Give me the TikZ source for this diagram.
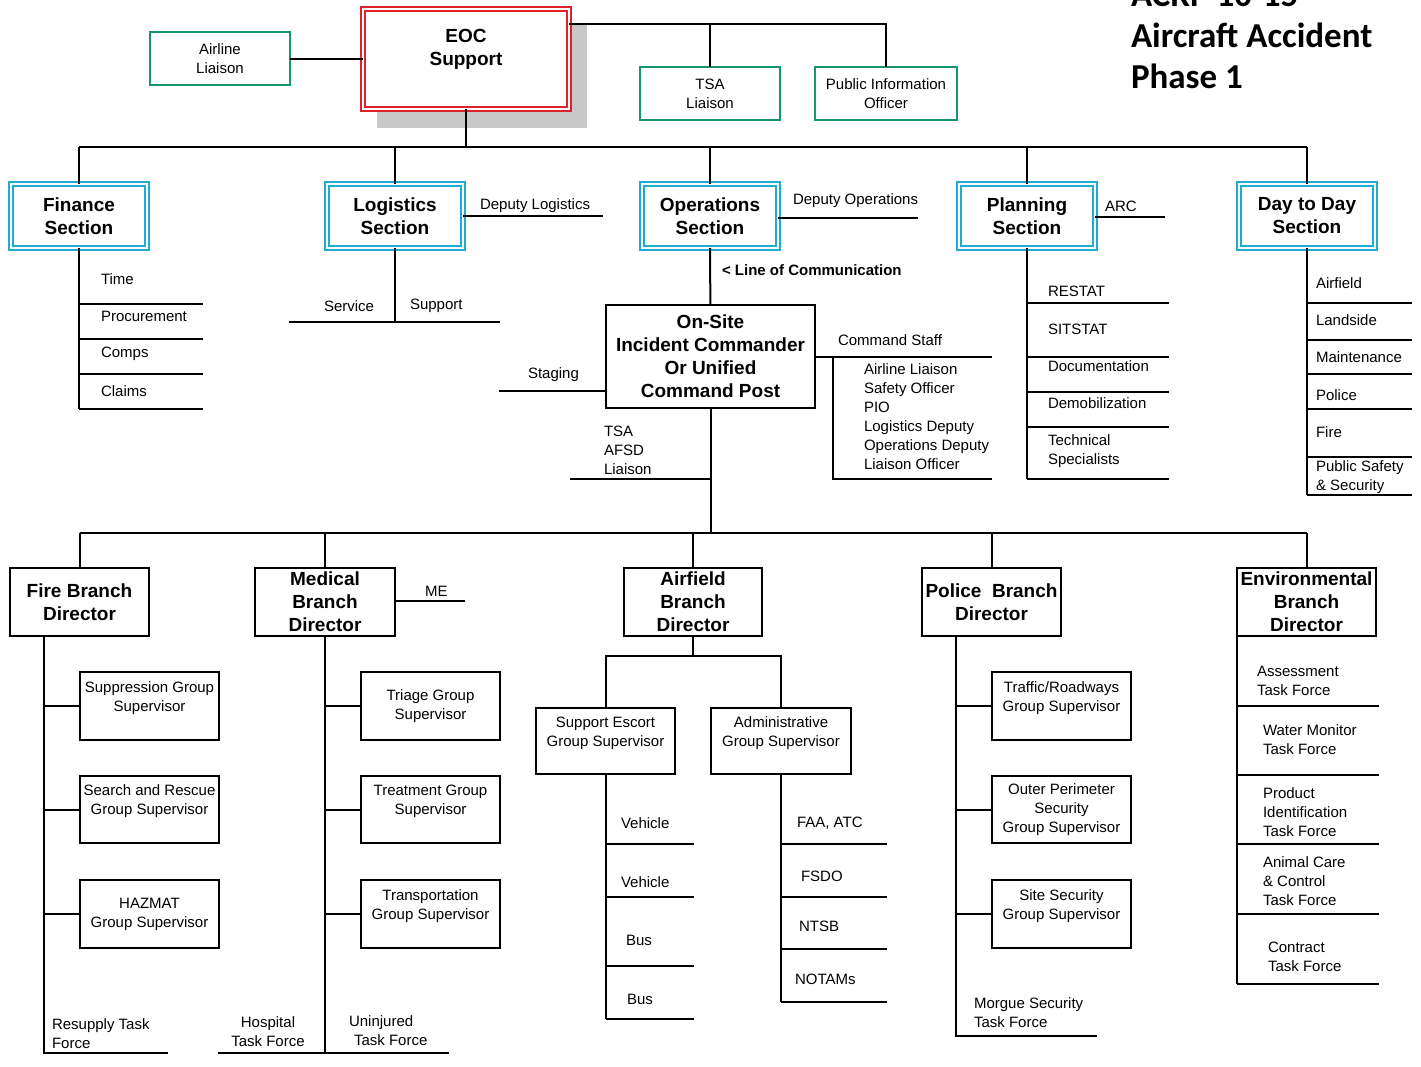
\documentclass[tikz,border=0pt]{standalone}
\usepackage{fontspec}
\setmainfont{Liberation Sans}
\newfontfamily\titlefont{Carlito}
\definecolor{eocred}{RGB}{222,34,44}
\definecolor{secblue}{RGB}{32,172,208}
\definecolor{liaigreen}{RGB}{22,150,112}
\definecolor{shadowgray}{RGB}{200,200,200}
\begin{document}
\begin{tikzpicture}[x=1pt,y=-1pt,
  every node/.style={inner sep=0pt, outer sep=0pt},
  ln/.style={line width=2pt, black},
  reg/.style={font=\fontsize{15}{19}\selectfont},
  bld/.style={font=\bfseries\fontsize{19}{23}\selectfont},
  box/.style={draw=black, line width=2pt, fill=white, align=center, reg},
  bbox/.style={box, bld},
  gbox/.style={draw=liaigreen, line width=2pt, fill=white, align=center, reg,
    minimum width=140pt, minimum height=53pt},
  sbox/.style={draw=secblue, double=white, line width=1.8pt, double distance=1.6pt,
    fill=white, align=center, bld, minimum width=136pt, minimum height=64pt},
  lbl/.style={anchor=west, align=left, reg},
]
\useasboundingbox (0,0) rectangle (1421,1067);
\begin{scope}
\clip (0,0) rectangle (1421,1067);

% title
\node[anchor=west, align=left, font=\titlefont\bfseries\fontsize{35}{41}\selectfont]
  (title) at (1131,36) {ACRP 10-15\\Aircraft Accident\\Phase 1};

% ---------- EOC level ----------
\fill[shadowgray] (377,25) rectangle (587,128);
\node[draw=eocred, double=white, line width=2pt, double distance=2pt, fill=white,
  minimum width=206pt, minimum height=100pt, align=center, bld]
  (eoc) at (466,59) {EOC\\Support\\~};
\node[gbox] (airline) at (220,59) {Airline\\Liaison};
\node[gbox] (tsa) at (710,93.5) {TSA\\Liaison};
\node[gbox, minimum width=142pt] (pio) at (886,93.5) {Public Information\\Officer};

\draw[ln] (airline) -- (eoc);
\draw[ln] (eoc.east |- 0,24) -| (pio.north);
\draw[ln] (tsa.north) -- (tsa.north |- 0,24);

% ---------- sections ----------
\node[sbox] (finance) at (79,216) {Finance\\Section};
\node[sbox] (logistics) at (395,216) {Logistics\\Section};
\node[sbox] (operations) at (710,216) {Operations\\Section};
\node[sbox] (planning) at (1027,216) {Planning\\Section};
\node[sbox] (daytoday) at (1307,216) {Day to Day\\Section};

\coordinate (topbus) at (0,147);
\draw[ln] (eoc.south) -- (eoc.south |- topbus);
\draw[ln] (finance.north |- topbus) -- (daytoday.north |- topbus);
\foreach \s in {finance,logistics,operations,planning,daytoday}
  \draw[ln] (\s.north) -- (\s.north |- topbus);

% finance units
\draw[ln] (finance.south) -- (finance.south |- 0,409);
\foreach \y in {304,339,374,409} \draw[ln] (finance.south |- 0,\y) -- ++(124,0);
\node[lbl] (time) at (101,279) {Time};
\node[lbl] (procure) at (101,316) {Procurement};
\node[lbl] (comps) at (101,354) {Comps};
\node[lbl] (claims) at (101,391) {Claims};

% logistics units
\draw[ln] (logistics.east) -- ++(140,0);
\node[lbl] (deplog) at (480,206) {Deputy Logistics};
\draw[ln] (logistics.south) -- (logistics.south |- 0,322);
\draw[ln] (289,322) coordinate (svcL) -- (500,322) coordinate (supR);
\node[lbl] (service) at (324,306) {Service};
\node[lbl] (support) at (410,306) {Support};

% operations
\draw[ln] (operations.east |- 0,218) -- ++(140,0);
\node[lbl] (depops) at (793,201) {Deputy Operations};
\node[lbl, font=\bfseries\fontsize{15}{19}\selectfont] (loc) at (722,270) {< Line of Communication};

\node[bbox, minimum width=209pt, minimum height=103pt] (onsite) at (710.5,356.5)
  {On-Site\\Incident Commander\\Or Unified\\Command Post};
\draw[ln] (operations) -- (onsite);

\draw[ln] (onsite.west |- 0,391) -- ++(-107,0);
\node[lbl] (staging) at (528,375) {Staging};

\draw[ln] (onsite.east |- 0,357) -- (992,357);
\coordinate (cstrunk) at (833,357);
\draw[ln] (cstrunk) -- (cstrunk |- 0,479) -- (992,479);
\node[lbl] (cmdstaff) at (838,340) {Command Staff};
\node[lbl] (cslist) at (864,417) {Airline Liaison\\Safety Officer\\PIO\\Logistics Deputy\\Operations Deputy\\Liaison Officer};

\node[lbl] (afsd) at (604,450) {TSA\\AFSD\\Liaison};
\draw[ln] (570,479) -- (onsite.south |- 0,479);

% planning units
\draw[ln] (planning.east |- 0,217) -- ++(70,0);
\node[lbl] (arc) at (1105,206) {ARC};
\draw[ln] (planning.south) -- (planning.south |- 0,479);
\foreach \y in {303,357,392,427,479} \draw[ln] (planning.south |- 0,\y) -- ++(142,0);
\node[lbl] (restat) at (1048,291) {RESTAT};
\node[lbl] (sitstat) at (1048,329) {SITSTAT};
\node[lbl] (docu) at (1048,366) {Documentation};
\node[lbl] (demob) at (1048,403) {Demobilization};
\node[lbl] (techspec) at (1048,451) {Technical\\Specialists};

% day to day units
\draw[ln] (daytoday.south) -- (daytoday.south |- 0,495);
\foreach \y in {303,340,374,409,457,495} \draw[ln] (daytoday.south |- 0,\y) -- ++(105,0);
\node[lbl] (dairfield) at (1316,283) {Airfield};
\node[lbl] (landside) at (1316,320) {Landside};
\node[lbl] (maint) at (1316,357) {Maintenance};
\node[lbl] (dpolice) at (1316,395) {Police};
\node[lbl] (dfire) at (1316,432) {Fire};
\node[lbl] (pubsafe) at (1316,477.5) {Public Safety\\\& Security};

% ---------- branches ----------
\node[bbox, minimum width=139pt, minimum height=68pt] (fire) at (79.5,602) {Fire Branch\\Director};
\node[bbox, minimum width=140pt, minimum height=68pt] (medical) at (325,602) {Medical\\Branch\\Director};
\node[bbox, minimum width=138pt, minimum height=68pt] (airfieldb) at (693,602) {Airfield\\Branch\\Director};
\node[bbox, minimum width=139pt, minimum height=68pt] (police) at (991.5,602) {Police~ Branch\\Director};
\node[bbox, minimum width=139pt, minimum height=68pt] (env) at (1306.5,602) {Environmental\\Branch\\Director};

\coordinate (brbus) at (0,533);
\draw[ln] (onsite.south) -- (onsite.south |- brbus);
\draw[ln] (fire.north |- brbus) -- (env.north |- brbus);
\foreach \b in {fire,medical,airfieldb,police,env}
  \draw[ln] (\b.north) -- (\b.north |- brbus);

% fire branch
\node[box, minimum width=139pt, minimum height=68pt] (suppr) at (149.5,706) {Suppression Group\\Supervisor\\~};
\node[box, minimum width=139pt, minimum height=67pt] (sar) at (149.5,809.5) {Search and Rescue\\Group Supervisor\\~};
\node[box, minimum width=139pt, minimum height=68pt] (hazmat) at (149.5,914) {HAZMAT\\Group Supervisor};
\coordinate (ftrunk) at (44,637);
\draw[ln] (ftrunk) -- (ftrunk |- 0,1053) -- (168,1053);
\foreach \g in {suppr,sar,hazmat} \draw[ln] (\g.west) -- (\g.west -| ftrunk);
\node[lbl] (resupply) at (52,1034) {Resupply Task\\Force};

% medical branch
\draw[ln] (medical.east |- 0,601) -- ++(70,0);
\node[lbl] (me) at (425,591) {ME};
\node[box, minimum width=139pt, minimum height=68pt] (triage) at (430.5,706) {Triage Group\\Supervisor};
\node[box, minimum width=139pt, minimum height=67pt] (treat) at (430.5,809.5) {Treatment Group\\Supervisor\\~};
\node[box, minimum width=139pt, minimum height=68pt] (transp) at (430.5,914) {Transportation\\Group Supervisor\\~};
\draw[ln] (medical.south) -- (medical.south |- 0,1053);
\draw[ln] (218,1053) -- (449,1053);
\foreach \g in {triage,treat,transp} \draw[ln] (\g.west) -- (\g.west -| medical.south);
\node[reg, align=center] (hospital) at (268,1032) {Hospital\\Task Force};
\node[lbl] (uninj) at (349,1031) {Uninjured\\\hspace*{5pt}Task Force};

% airfield branch
\node[box, minimum width=139pt, minimum height=66pt] (escort) at (605.5,741) {Support Escort\\Group Supervisor\\~};
\node[box, minimum width=140pt, minimum height=66pt] (admin) at (781,741) {Administrative\\Group Supervisor\\~};
\draw[ln] (airfieldb.south) -- (airfieldb.south |- 0,656);
\draw[ln] (escort.north) -- (escort.north |- 0,656) -- (admin.north |- 0,656) -- (admin.north);
\draw[ln] (escort.south) -- (escort.south |- 0,1019);
\foreach \y in {844,897,966,1019} \draw[ln] (escort.south |- 0,\y) -- ++(88,0);
\node[lbl] (veh1) at (621,823) {Vehicle};
\node[lbl] (veh2) at (621,882) {Vehicle};
\node[lbl] (bus1) at (626,940) {Bus};
\node[lbl] (bus2) at (627,999) {Bus};
\draw[ln] (admin.south) -- (admin.south |- 0,1002);
\foreach \y in {844,897,949,1002} \draw[ln] (admin.south |- 0,\y) -- ++(106,0);
\node[lbl] (faa) at (797,823) {FAA, ATC};
\node[lbl] (fsdo) at (801,876) {FSDO};
\node[lbl] (ntsb) at (799,926) {NTSB};
\node[lbl] (notams) at (795,979) {NOTAMs};

% police branch
\node[box, minimum width=139pt, minimum height=68pt] (traffic) at (1061.5,706) {Traffic/Roadways\\Group Supervisor\\~};
\node[box, minimum width=139pt, minimum height=67pt] (outer) at (1061.5,809.5) {Outer Perimeter\\Security\\Group Supervisor};
\node[box, minimum width=139pt, minimum height=68pt] (site) at (1061.5,914) {Site Security\\Group Supervisor\\~};
\coordinate (ptrunk) at (956,637);
\draw[ln] (ptrunk) -- (ptrunk |- 0,1036) -- (1097,1036);
\foreach \g in {traffic,outer,site} \draw[ln] (\g.west) -- (\g.west -| ptrunk);
\node[lbl] (morgue) at (974,1013) {Morgue Security\\Task Force};

% environmental branch
\draw[ln] (env.south west) -- (env.south west |- 0,984);
\foreach \y in {706,775,844,914,984} \draw[ln] (env.south west |- 0,\y) -- ++(142,0);
\node[lbl] (assess) at (1257,681) {Assessment\\Task Force};
\node[lbl] (water) at (1263,740) {Water Monitor\\Task Force};
\node[lbl] (product) at (1263,812) {Product\\Identification\\Task Force};
\node[lbl] (animal) at (1263,881) {Animal Care\\\& Control\\Task Force};
\node[lbl] (contract) at (1268,957) {Contract\\Task Force};
\end{scope}
\end{tikzpicture}
\end{document}
